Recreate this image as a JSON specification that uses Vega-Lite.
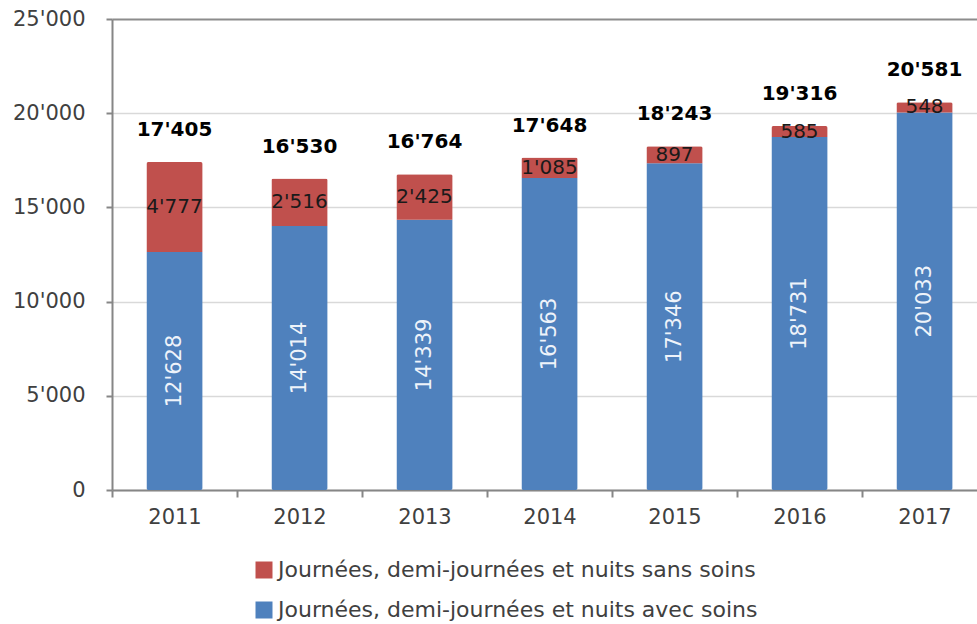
{
  "$schema": "https://vega.github.io/schema/vega-lite/v6.json",
  "width": 875,
  "height": 471,
  "autosize": {"type": "none"},
  "padding": {"left": 112, "top": 19, "right": 0, "bottom": 134},
  "background": "white",
  "config": {
    "locale": {"number": {"decimal": ".", "thousands": "'", "grouping": [3], "currency": ["", ""]}},
    "font": "DejaVu Sans",
    "view": {"stroke": null}
  },
  "data": {
    "values": [
      {"year": "2011", "type": "Journées, demi-journées et nuits avec soins", "value": 12628},
      {"year": "2011", "type": "Journées, demi-journées et nuits sans soins", "value": 4777},
      {"year": "2012", "type": "Journées, demi-journées et nuits avec soins", "value": 14014},
      {"year": "2012", "type": "Journées, demi-journées et nuits sans soins", "value": 2516},
      {"year": "2013", "type": "Journées, demi-journées et nuits avec soins", "value": 14339},
      {"year": "2013", "type": "Journées, demi-journées et nuits sans soins", "value": 2425},
      {"year": "2014", "type": "Journées, demi-journées et nuits avec soins", "value": 16563},
      {"year": "2014", "type": "Journées, demi-journées et nuits sans soins", "value": 1085},
      {"year": "2015", "type": "Journées, demi-journées et nuits avec soins", "value": 17346},
      {"year": "2015", "type": "Journées, demi-journées et nuits sans soins", "value": 897},
      {"year": "2016", "type": "Journées, demi-journées et nuits avec soins", "value": 18731},
      {"year": "2016", "type": "Journées, demi-journées et nuits sans soins", "value": 585},
      {"year": "2017", "type": "Journées, demi-journées et nuits avec soins", "value": 20033},
      {"year": "2017", "type": "Journées, demi-journées et nuits sans soins", "value": 548}
    ]
  },
  "encoding": {
    "x": {
      "field": "year",
      "type": "ordinal",
      "scale": {"paddingInner": 0, "paddingOuter": 0},
      "axis": {
        "title": null,
        "labelAngle": 0,
        "labelFontSize": 21,
        "labelColor": "#404040",
        "labelPadding": 9,
        "tickSize": 7,
        "tickBand": "extent",
        "tickColor": "#868686",
        "tickWidth": 2,
        "domainColor": "#868686",
        "domainWidth": 2,
        "grid": false
      }
    }
  },
  "layer": [
    {
      "mark": {"type": "bar", "cornerRadius": 2, "width": {"band": 0.45}},
      "encoding": {
        "y": {
          "field": "value",
          "type": "quantitative",
          "stack": "zero",
          "scale": {"domain": [0, 25000], "nice": false},
          "axis": {
            "title": null,
            "values": [0, 5000, 10000, 15000, 20000, 25000],
            "format": ",d",
            "labelFontSize": 21,
            "labelColor": "#404040",
            "labelPadding": 21,
            "tickSize": 6,
            "tickColor": "#868686",
            "tickWidth": 2,
            "domainColor": "#868686",
            "domainWidth": 2,
            "gridColor": {"condition": {"test": "datum.value === 25000", "value": "#8c8c8c"}, "value": "#d9d9d9"},
            "gridWidth": {"condition": {"test": "datum.value === 25000", "value": 2}, "value": 1.5}
          }
        },
        "color": {
          "field": "type",
          "type": "nominal",
          "scale": {
            "domain": ["Journées, demi-journées et nuits sans soins", "Journées, demi-journées et nuits avec soins"],
            "range": ["#c0504d", "#4f81bd"]
          },
          "legend": {
            "title": null,
            "orient": "none",
            "legendX": 141,
            "legendY": 540,
            "direction": "vertical",
            "symbolType": "square",
            "symbolSize": 289,
            "symbolStrokeWidth": 0,
            "symbolOpacity": 1,
            "labelFontSize": 22,
            "labelColor": "#404040",
            "labelOffset": 3,
            "rowPadding": 18,
            "padding": 0,
            "labelLimit": 700
          }
        },
        "order": {"field": "type", "sort": "ascending"}
      }
    },
    {
      "mark": {"type": "text", "fontSize": 20, "baseline": "middle", "align": "center", "color": "#1a1a1a"},
      "encoding": {
        "y": {"field": "value", "type": "quantitative", "stack": "zero", "bandPosition": 0.5},
        "detail": {"field": "type"},
        "order": {"field": "type", "sort": "ascending"},
        "text": {
          "condition": {"test": "datum.type === 'Journées, demi-journées et nuits sans soins'", "field": "value", "type": "quantitative", "format": ",d"},
          "value": ""
        }
      }
    },
    {
      "mark": {"type": "text", "fontSize": 21, "baseline": "middle", "align": "center", "angle": 270, "color": "#eef3fa"},
      "encoding": {
        "y": {"field": "value", "type": "quantitative", "stack": "zero", "bandPosition": 0.5},
        "detail": {"field": "type"},
        "order": {"field": "type", "sort": "ascending"},
        "text": {
          "condition": {"test": "datum.type === 'Journées, demi-journées et nuits avec soins'", "field": "value", "type": "quantitative", "format": ",d"},
          "value": ""
        }
      }
    },
    {
      "mark": {"type": "text", "fontSize": 20, "fontWeight": "bold", "baseline": "middle", "align": "center", "dy": -32, "color": "#000000"},
      "encoding": {
        "y": {"aggregate": "sum", "field": "value", "type": "quantitative", "stack": null},
        "text": {"aggregate": "sum", "field": "value", "type": "quantitative", "format": ",d"}
      }
    }
  ]
}
